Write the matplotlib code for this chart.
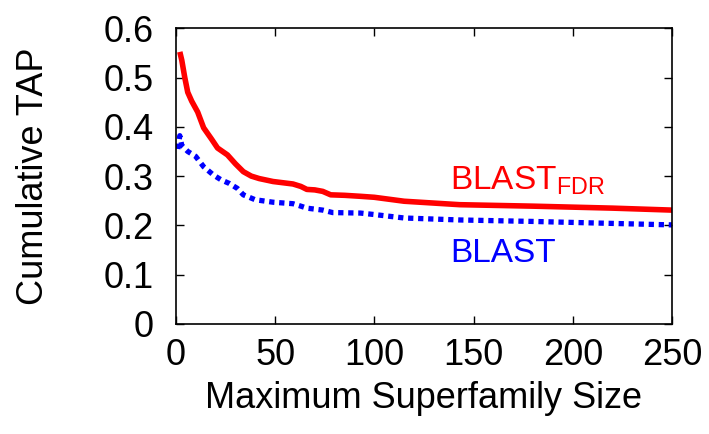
import matplotlib.pyplot as plt

plt.rcParams['font.family'] = ['Liberation Sans', 'DejaVu Sans']
plt.rcParams['mathtext.default'] = 'regular'

# BLAST_FDR curve
fdr_x = [2, 3, 4.5, 6, 8, 11, 14, 18, 21, 26, 30, 34, 38, 42, 49, 55, 59, 63, 66, 70, 74, 78, 85, 93, 100, 115, 143, 180, 220, 250]
fdr_y = [0.552, 0.535, 0.50, 0.47, 0.452, 0.43, 0.398, 0.375, 0.357, 0.343, 0.325, 0.309, 0.300, 0.295, 0.289, 0.286, 0.284, 0.279, 0.273, 0.272, 0.269, 0.262, 0.261, 0.259, 0.257, 0.249, 0.242, 0.239, 0.235, 0.231]

# BLAST curve
blast_x = [1, 2, 3, 6, 10, 14, 19, 23, 27, 31, 34, 40, 49, 59, 63, 66, 74, 79, 93, 100, 115, 143, 180, 220, 250]
blast_y = [0.355, 0.382, 0.362, 0.35, 0.34, 0.319, 0.302, 0.292, 0.285, 0.275, 0.262, 0.252, 0.247, 0.244, 0.239, 0.235, 0.231, 0.226, 0.225, 0.222, 0.215, 0.211, 0.208, 0.204, 0.201]

fig = plt.figure(figsize=(7.09, 4.34), dpi=100)
ax = fig.add_axes([0.248, 0.2535, 0.700, 0.6815])

ax.plot(fdr_x, fdr_y, color='#ff0000', lw=4, solid_capstyle='butt', solid_joinstyle='round')
ax.plot(blast_x, blast_y, color='#0000ff', lw=3.8, linestyle=(0, (1, 0.9)), dash_capstyle='butt')

ax.text(138, 0.272, r'BLAST$_{FDR}$', color='#ff0000', fontsize=24)
ax.text(138, 0.126, 'BLAST', color='#0000ff', fontsize=24)

ax.set_xlim(0, 250)
ax.set_ylim(0, 0.6)
ax.set_xticks([0, 50, 100, 150, 200, 250])
ax.set_yticks([0, 0.1, 0.2, 0.3, 0.4, 0.5, 0.6])
ax.set_yticklabels(['0', '0.1', '0.2', '0.3', '0.4', '0.5', '0.6'])
ax.tick_params(direction='in', top=True, right=True, length=6, width=1, labelsize=26)
ax.tick_params(axis='x', pad=10)
ax.tick_params(axis='y', pad=16)
for s in ax.spines.values():
    s.set_linewidth(1.2)

ax.set_xlabel('Maximum Superfamily Size', fontsize=26, labelpad=6)
ax.set_ylabel('Cumulative TAP', fontsize=26, labelpad=38)

fig.savefig('out.png', dpi=100)
